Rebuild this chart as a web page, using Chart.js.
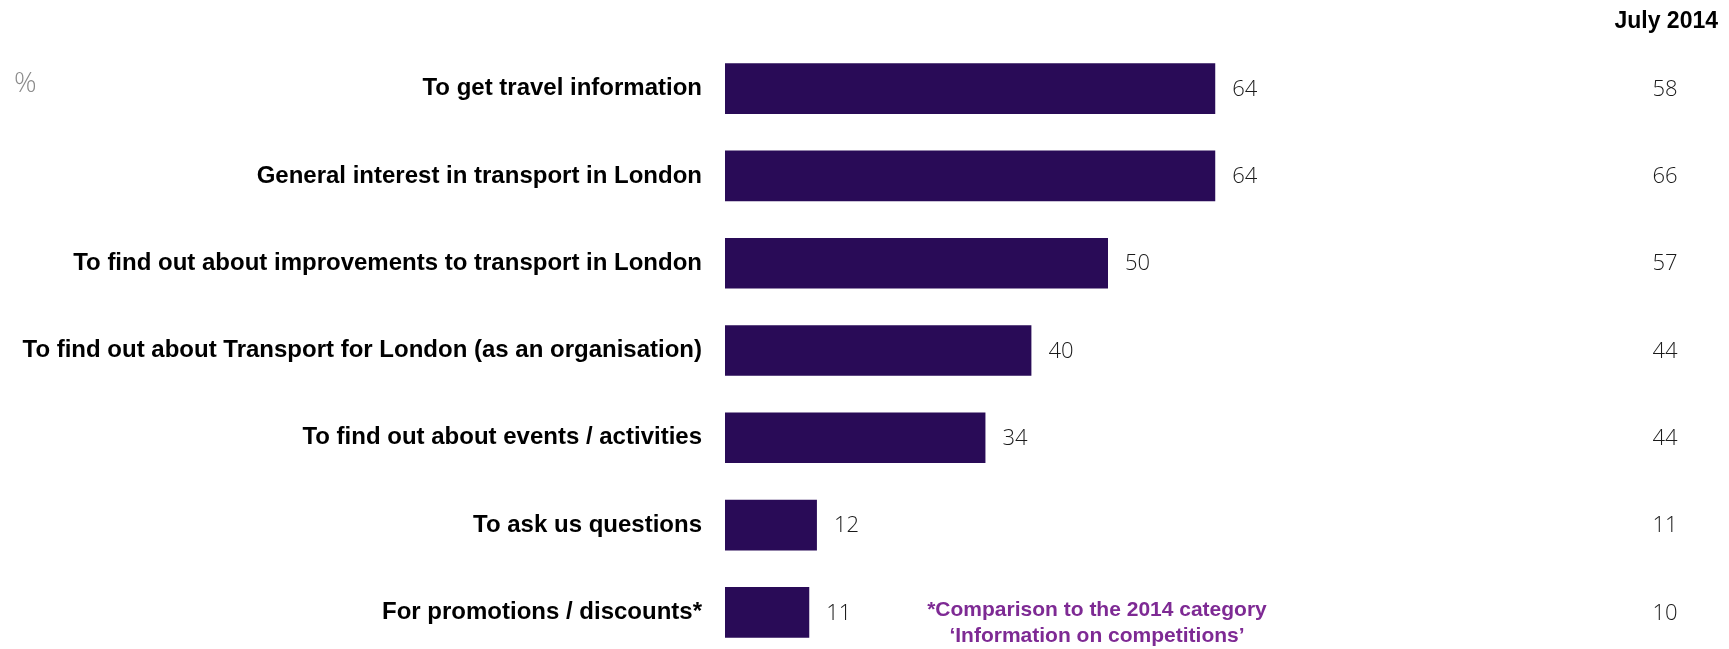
<!DOCTYPE html>
<html>
<head>
<meta charset="utf-8">
<script src="https://cdn.jsdelivr.net/npm/chart.js@4"></script>
<style>
  html, body { margin: 0; padding: 0; background: #fff; overflow: hidden; }
  canvas { display: block; }
</style>
</head>
<body>
<canvas id="chart-motivos" width="1729" height="656"></canvas>
<script>
/* ---------- Datos ---------- */
const categorias = [
  'To get travel information',
  'General interest in transport in London',
  'To find out about improvements to transport in London',
  'To find out about Transport for London (as an organisation)',
  'To find out about events / activities',
  'To ask us questions',
  'For promotions / discounts*'
];
const valoresActual = [64, 64, 50, 40, 34, 12, 11];
const valoresJulio2014 = [58, 66, 57, 44, 44, 11, 10];
const tituloComparativa = 'July 2014';
const unidad = '%';
const notaPie = ['*Comparison to the 2014 category', '\u2018Information on competitions\u2019'];

/* ---------- Colores ---------- */
const COL = {
  bar:   '#290b57',
  text:  '#000000',
  value: '#1a1a1a',
  unit:  '#8a8a8a',
  note:  '#7e2a94'
};

/* ---------- Textos extra: valores, columna 2014, % y nota ---------- */
const extrasPlugin = {
  id: 'extras',
  afterDatasetsDraw(chart) {
    const { ctx, scales: { y } } = chart;
    const meta = chart.getDatasetMeta(0);
    ctx.save();
    ctx.textBaseline = 'middle';

    // Valor al final de cada barra
    ctx.fillStyle = COL.value;
    ctx.font = '300 22px "Open Sans", sans-serif';
    ctx.textAlign = 'left';
    meta.data.forEach((bar, i) => {
      ctx.fillText(String(valoresActual[i]), bar.x + 17, bar.y + 1);
    });

    // Columna de comparación
    ctx.textAlign = 'center';
    valoresJulio2014.forEach((v, i) => {
      ctx.fillText(String(v), 1665, y.getPixelForValue(i) + 1);
    });

    ctx.fillStyle = COL.text;
    ctx.font = 'bold 23px "Liberation Sans", sans-serif';
    ctx.textAlign = 'right';
    ctx.fillText(tituloComparativa, 1718, 22);

    // Unidad
    ctx.fillStyle = COL.unit;
    ctx.font = '300 28px "Open Sans", sans-serif';
    ctx.textAlign = 'left';
    ctx.fillText(unidad, 14, 84);

    // Nota al pie
    ctx.fillStyle = COL.note;
    ctx.font = 'bold 21px "Liberation Sans", sans-serif';
    ctx.textAlign = 'center';
    ctx.fillText(notaPie[0], 1097, 610);
    ctx.fillText(notaPie[1], 1097, 636);
    ctx.restore();
  }
};

new Chart(document.getElementById('chart-motivos'), {
  type: 'bar',
  data: {
    labels: categorias,
    datasets: [{
      data: valoresActual,
      backgroundColor: COL.bar,
      borderWidth: 0,
      barPercentage: 0.58,
      categoryPercentage: 1
    }]
  },
  options: {
    indexAxis: 'y',
    responsive: false,
    animation: false,
    layout: { padding: { top: 45, right: 238, bottom: 0, left: 0 } },
    plugins: { legend: { display: false }, tooltip: { enabled: false } },
    scales: {
      x: { display: false, min: 0, max: 100 },
      y: {
        grid: { display: false, drawTicks: false },
        border: { display: false },
        ticks: {
          color: COL.text,
          padding: 23,
          font: { family: '"Liberation Sans", sans-serif', size: 24, weight: 'bold' }
        },
        // ancho fijo del eje y sin relleno vertical extra de las etiquetas
        afterFit(scale) {
          scale.width = 725;
          scale.paddingTop = 0;
          scale.paddingBottom = 0;
        }
      }
    }
  },
  plugins: [extrasPlugin]
});
</script>
</body>
</html>
